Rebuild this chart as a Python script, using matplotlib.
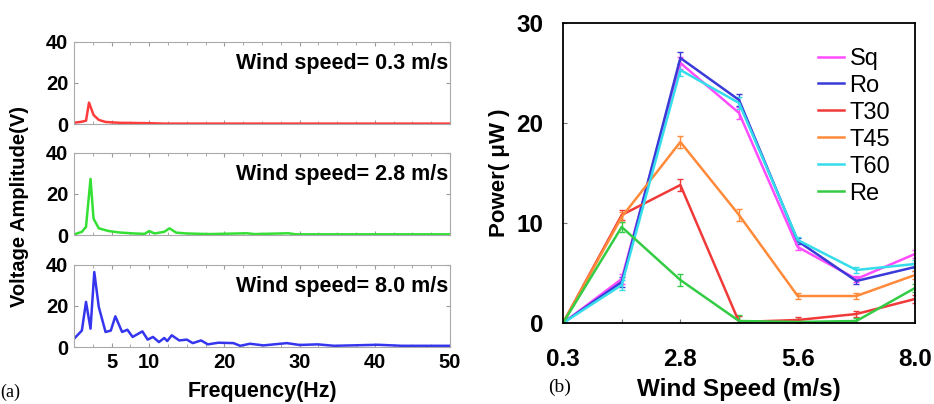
import matplotlib.pyplot as plt
from matplotlib.lines import Line2D
import numpy as np

plt.rcParams['font.family'] = ['Liberation Sans', 'DejaVu Sans']

# (a) frequency spectra
f1 = [0, 1.0, 1.6, 2.0, 2.6, 3.3, 4.2, 6, 8, 10, 12, 20, 30, 40, 50]
v1 = [0.6, 1.1, 1.6, 10.4, 4.4, 2.0, 1.0, 0.6, 0.5, 0.4, 0.2, 0.2, 0.2, 0.2, 0.2]

f2 = [0, 1.05, 1.6, 2.2, 2.6, 3.3, 4.6, 6.0, 8.0, 9.4, 10.0, 10.7, 12.0, 12.7, 13.6,
      15, 18, 23, 24, 28.5, 29.5, 35, 40, 50]
v2 = [0.3, 1.6, 4.0, 27.3, 8.0, 3.3, 2.0, 1.3, 0.8, 0.6, 2.0, 0.8, 1.6, 3.3, 1.2,
      0.8, 0.5, 0.9, 0.5, 0.9, 0.4, 0.4, 0.4, 0.4]

f3 = [0, 1.05, 1.6, 2.2, 2.7, 3.3, 4.2, 4.9, 5.5, 6.4, 7.1, 7.8, 9.1, 9.8, 10.5,
      11.3, 12.0, 12.4, 13.0, 14.0, 15.0, 15.8, 16.9, 17.8, 19.2, 21.2, 22.1,
      23.4, 25.2, 28.3, 30.0, 32.4, 34.6, 40.4, 43.6, 50]
v3 = [4.0, 8.0, 21.9, 8.9, 36.4, 19.4, 7.3, 8.0, 14.9, 7.3, 8.4, 4.9, 7.6, 3.6, 4.9,
      2.4, 4.4, 2.9, 5.7, 3.2, 3.6, 1.9, 3.2, 1.3, 2.1, 1.9, 0.6,
      1.6, 0.8, 1.9, 1.0, 1.3, 0.6, 1.1, 0.6, 0.6]

speeds_a = ['0.3', '2.8', '8.0']

# (b) power vs wind speed
ws_labels = ['0.3', '', '2.8', '', '5.6', '', '8.0']
Sq = [0, 4.4, 26.0, 21.0, 7.6, 4.4, 6.9]
Ro = [0, 4.1, 26.5, 22.3, 8.2, 4.2, 5.6]
T30 = [0, 10.8, 13.8, 0.1, 0.3, 0.9, 2.4]
T45 = [0, 10.6, 18.1, 10.8, 2.7, 2.7, 4.8]
T60 = [0, 3.8, 25.3, 22.0, 8.3, 5.3, 5.9]
Re = [0, 9.6, 4.3, 0.2, 0.1, 0.2, 3.5]
errs = [0, 0.5, 0.6, 0.6, 0.3, 0.3, 0.4]

fig = plt.figure(figsize=(9.34, 4.04), dpi=100)

panels = [(f1, v1, '#ff3b3b', 0.693), (f2, v2, '#35e035', 0.418), (f3, v3, '#3535ee', 0.141)]
for i, (f, v, c, b) in enumerate(panels):
    ax = fig.add_axes([0.0792, b, 0.4026, 0.204])
    ax.plot(f, v, color=c, lw=1.8)
    ax.set_xlim(0, 50)
    ax.set_ylim(0, 40)
    ax.set_yticks([0, 20, 40])
    ax.set_xticks([5, 10, 20, 30, 40, 50])
    ax.set_xticks(np.arange(0, 50.1, 2.5), minor=True)
    ax.tick_params(direction='in', length=3, color='#999999', top=True, right=True,
                   labelsize=14.5, pad=4)
    ax.tick_params(which='minor', direction='in', length=2, color='#999999', top=True, bottom=True)
    for lab in ax.get_yticklabels() + ax.get_xticklabels():
        lab.set_fontweight('bold')
    for s in ax.spines.values():
        s.set_color('#aaaaaa')
    if i < 2:
        ax.set_xticklabels([])
    ax.text(0.995, 0.74, 'Wind speed= %s m/s' % speeds_a[i], transform=ax.transAxes,
            ha='right', va='center', fontsize=15.5, fontweight='bold')

fig.text(0.021, 0.49, 'Voltage Amplitude(V)', rotation=90, ha='center', va='center',
         fontsize=14.5, fontweight='bold')
fig.text(0.281, 0.03, 'Frequency(Hz)', ha='center', va='center', fontsize=15.5,
         fontweight='bold')
fig.text(0.0, 0.03, '(a)', ha='left', va='center', fontsize=13, family='Liberation Serif')

# (b)
ax2 = fig.add_axes([0.6028, 0.2005, 0.3769, 0.7426])
x = np.arange(len(ws_labels))
series = [('Sq', Sq, '#ff4cff'), ('Ro', Ro, '#3a3ad8'), ('T30', T30, '#f03a3a'),
          ('T45', T45, '#ff8a3a'), ('T60', T60, '#35dcea'), ('Re', Re, '#35cc45')]
handles = []
for name, y, c in series:
    ax2.errorbar(x, y, yerr=errs, color=c, lw=1.8, capsize=2, elinewidth=1)
    handles.append(Line2D([], [], color=c, lw=1.8, label=name))
ax2.set_xlim(0, 6)
ax2.set_ylim(0, 30)
ax2.set_xticks(x)
ax2.set_xticklabels(ws_labels)
ax2.set_yticks([0, 10, 20, 30])
ax2.tick_params(direction='in', length=3, color='#777777', labelsize=17.5)
ax2.tick_params(axis='x', pad=18)
ax2.tick_params(axis='y', pad=14)
for lab in ax2.get_yticklabels() + ax2.get_xticklabels():
    lab.set_fontweight('bold')
for s in ax2.spines.values():
    s.set_linewidth(1.3)
ax2.set_ylabel('Power( μW )', fontsize=16, fontweight='bold', labelpad=5)
ax2.set_xlabel('Wind Speed (m/s)', fontsize=17.5, fontweight='bold', labelpad=5)
ax2.legend(handles=handles, loc='upper right', frameon=False, fontsize=17, handlelength=1.1,
           handletextpad=0.25, labelspacing=0.21, borderaxespad=0.65)
fig.text(0.587, 0.04, '(b)', ha='left', va='center', fontsize=14, family='Liberation Serif')

fig.savefig('out.png', dpi=100)
